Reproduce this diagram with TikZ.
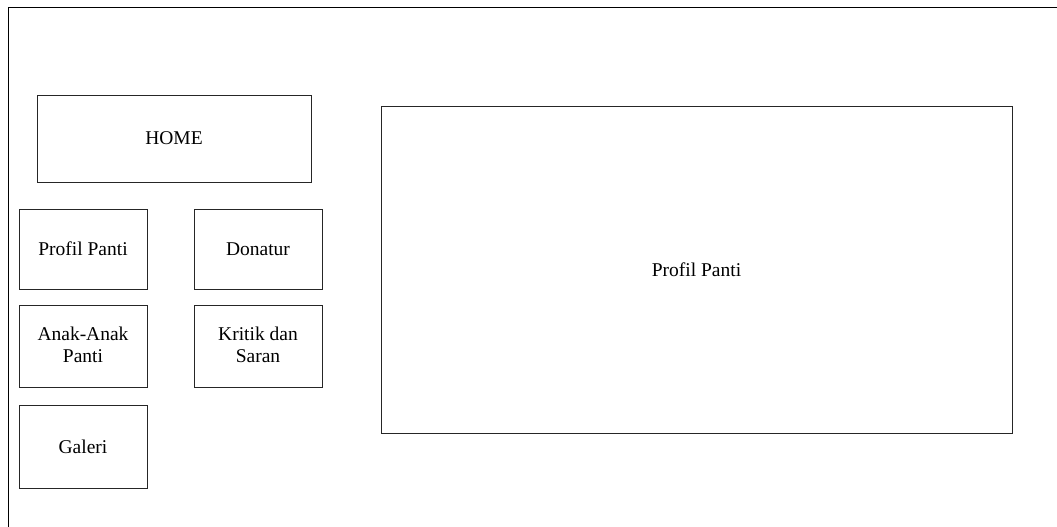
\documentclass[tikz,border=0pt]{standalone}
\usepackage{fontspec}
\setmainfont{Liberation Serif}
\begin{document}
\begin{tikzpicture}[x=1pt,y=-1pt,
  box/.style={draw=black!85,line width=0.85pt},
  lbl/.style={align=center,font=\fontsize{19.5}{21.5}\selectfont,inner sep=0pt}]
\useasboundingbox (0,0) rectangle (1057,527);
\coordinate (fTR) at (1057,7.5);
\coordinate (fTL) at (8.5,7.5);
\coordinate (fBL) at (8.5,527);
\draw[line width=0.9pt] (fTR) -- (fTL) -- (fBL);
\draw[box] (37,95) rectangle (311,182);
\node[lbl] (home) at (174,138.5) {HOME};
\draw[box] (19,209) rectangle (147,289);
\node[lbl] (profil) at (83,249) {Profil Panti};
\draw[box] (194,209) rectangle (322,289);
\node[lbl] (donatur) at (258,249) {Donatur};
\draw[box] (19,305) rectangle (147,387);
\node[lbl] (anak) at (83,345) {Anak-Anak\\Panti};
\draw[box] (194,305) rectangle (322,387);
\node[lbl] (kritik) at (258,345) {Kritik dan\\Saran};
\draw[box] (19,405) rectangle (147,488);
\node[lbl] (galeri) at (83,446.5) {Galeri};
\draw[box] (381,106) rectangle (1012,433);
\node[lbl] (main) at (696.5,269.5) {Profil Panti};
\end{tikzpicture}
\end{document}
